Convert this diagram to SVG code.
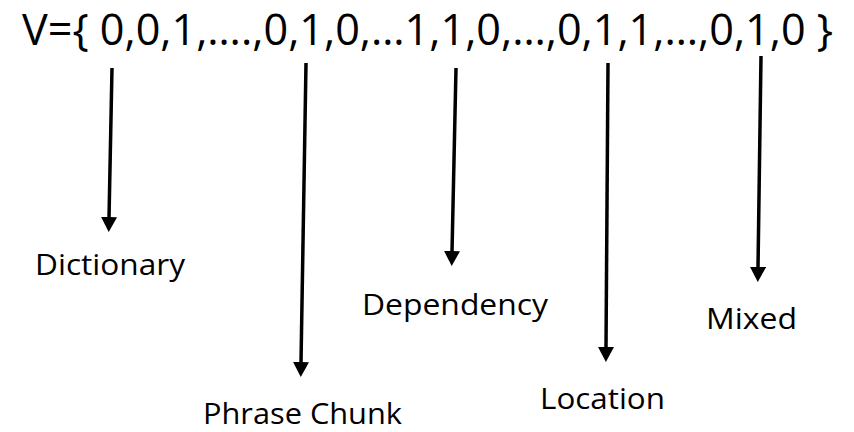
<svg xmlns="http://www.w3.org/2000/svg" width="854" height="432" viewBox="0 0 854 432">
<style>
text{font-family:"Open Sans","Liberation Sans",sans-serif;fill:#000;}
.lbl{font-size:29px;}
.top{font-size:43px;}
.arr{stroke:#000;stroke-width:3.5;fill:none;}
</style>
<defs>
<marker id="ah" markerUnits="userSpaceOnUse" markerWidth="16" markerHeight="17" refX="1" refY="8" orient="auto" viewBox="0 0 16 16">
<path d="M0,0 L15,8 L0,16 z" fill="#000"/>
</marker>
</defs>
<rect width="854" height="432" fill="#fff"/>
<g id="vector"><text class="top" x="22" y="45" textLength="811" lengthAdjust="spacingAndGlyphs">V={ 0,0,1,….,0,1,0,…1,1,0,…,0,1,1,…,0,1,0 }</text></g>
<g id="connectors">
<line class="arr" x1="112" y1="68" x2="109" y2="218" marker-end="url(#ah)"/>
<line class="arr" x1="306" y1="63" x2="301" y2="363" marker-end="url(#ah)"/>
<line class="arr" x1="456" y1="68" x2="452" y2="252" marker-end="url(#ah)"/>
<line class="arr" x1="608" y1="63" x2="606" y2="348" marker-end="url(#ah)"/>
<line class="arr" x1="761" y1="56" x2="758" y2="268" marker-end="url(#ah)"/>
</g>
<g id="dictionary"><text class="lbl" x="35" y="275" textLength="150" lengthAdjust="spacingAndGlyphs">Dictionary</text></g>
<g id="phrase-chunk"><text class="lbl" x="203" y="424" textLength="199" lengthAdjust="spacingAndGlyphs">Phrase Chunk</text></g>
<g id="dependency"><text class="lbl" x="362" y="315" textLength="186" lengthAdjust="spacingAndGlyphs">Dependency</text></g>
<g id="location"><text class="lbl" x="540" y="409" textLength="125" lengthAdjust="spacingAndGlyphs">Location</text></g>
<g id="mixed"><text class="lbl" x="706" y="329" textLength="91" lengthAdjust="spacingAndGlyphs">Mixed</text></g>
</svg>
